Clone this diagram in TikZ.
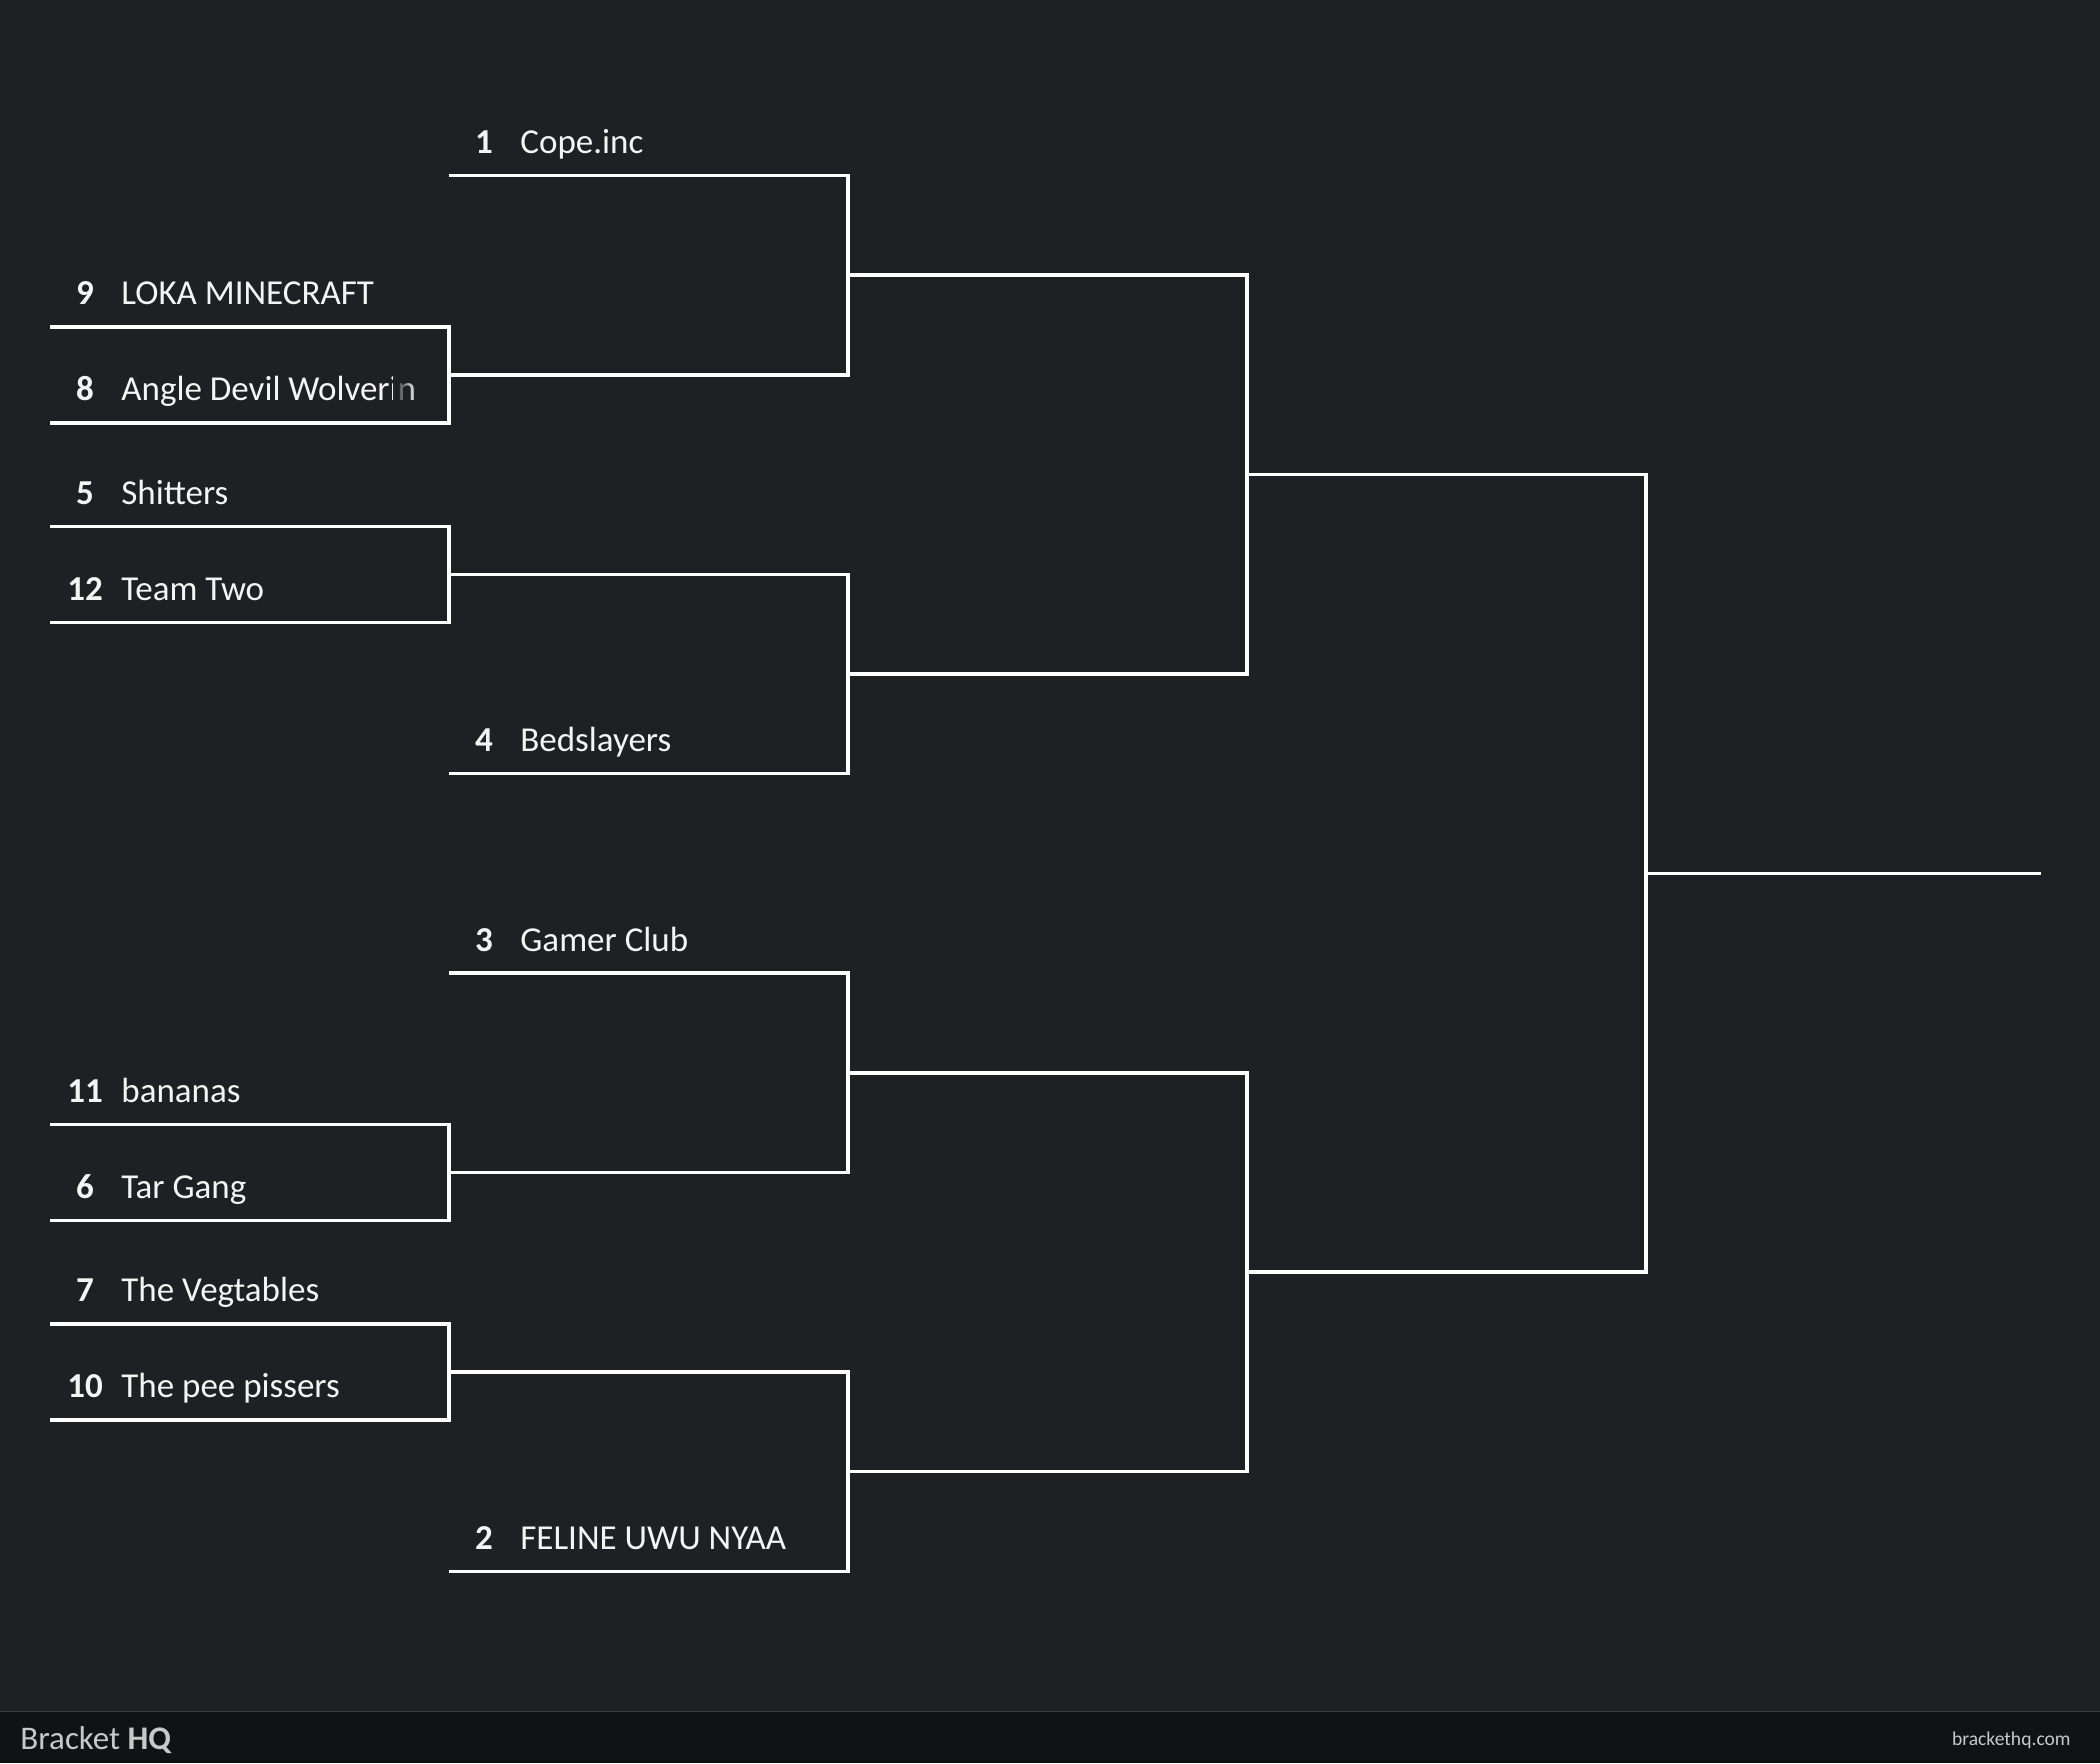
\documentclass[tikz,border=0pt]{standalone}
\usepackage{fontspec}
\setmainfont{Carlito}
\usetikzlibrary{fadings}
\definecolor{fundo}{HTML}{1F2023}
\definecolor{rodape}{HTML}{111214}
\definecolor{borda}{HTML}{3C3D40}
\definecolor{texto}{HTML}{F4F4F4}
\definecolor{cinza}{HTML}{C8C8C8}

\begin{document}
\begin{tikzpicture}[x=0.5pt,y=-0.5pt,
  chave/.style={draw=white, line width=1.75pt, line join=miter},
  semente/.style={anchor=base, inner sep=0pt, text=texto, font=\bfseries\fontsize{17.5}{20}\selectfont},
  equipe/.style={anchor=base west, inner sep=0pt, text=texto, font=\fontsize{17.5}{20}\selectfont}]
\useasboundingbox (0,0) rectangle (2100,1763);
\fill[fundo] (0,0) rectangle (2100,1763);
% Rodape
\fill[rodape] (0,1712) rectangle (2100,1763);
\draw[borda, line width=0.6pt] (0,1711.5) -- (2100,1711.5);
\node[anchor=base west, inner sep=0pt, text=cinza, font=\fontsize{16.5}{18}\selectfont] (marca) at (20,1749) {Bracket \textbf{HQ}};
\node[anchor=base east, inner sep=0pt, text=cinza, font=\fontsize{9.8}{11}\selectfont] (site) at (2071,1745) {brackethq.com};
% Equipes
\foreach \n/\x/\y/\s/\t in {
  loka/50/326.9/9/LOKA MINECRAFT,
  angle/50/422.9/8/Angle Devil Wolverin,
  shitters/50/526.3/5/Shitters,
  teamtwo/50/622.3/12/Team Two,
  bananas/50/1124.5/11/bananas,
  targang/50/1220.5/6/Tar Gang,
  vegtables/50/1323.9/7/The Vegtables,
  pee/50/1419.9/10/The pee pissers,
  cope/449/175.5/1/Cope.inc,
  bed/449/773.7/4/Bedslayers,
  gamer/449/973.1/3/Gamer Club,
  feline/449/1571.3/2/FELINE UWU NYAA}
{
  \coordinate (\n-l) at (\x,\y);
  \coordinate (\n-r) at ({\x+399},\y);
  \node[semente] (\n-s) at ({\x+35},{\y-22}) {\s};
  \node[equipe] (\n-t) at ({\x+71},{\y-22}) {\t};
}
% Vagas vazias
\foreach \n/\x/\y in {w1/449/374.9, w2/449/574.3, w3/449/1172.5, w4/449/1371.9,
  q1/848/275.2, q2/848/674.0, q3/848/1072.8, q4/848/1471.6,
  s1/1247/474.6, s2/1247/1272.2}
{
  \coordinate (\n-l) at (\x,\y);
  \coordinate (\n-r) at ({\x+399},\y);
}
\coordinate (f-l) at (1647,873.4);
\coordinate (f-r) at (2041,873.4);
% Nome cortado
\fill[fundo, path fading=east] (393,368) rectangle (416,419);
\fill[fundo] (416,368) rectangle (446,419);
% Chaves
\draw[chave] (loka-l) -- (loka-r) -- (angle-r) -- (angle-l);
\draw[chave] (shitters-l) -- (shitters-r) -- (teamtwo-r) -- (teamtwo-l);
\draw[chave] (bananas-l) -- (bananas-r) -- (targang-r) -- (targang-l);
\draw[chave] (vegtables-l) -- (vegtables-r) -- (pee-r) -- (pee-l);
\draw[chave] (cope-l) -- (cope-r) -- (w1-r) -- (w1-l);
\draw[chave] (w2-l) -- (w2-r) -- (bed-r) -- (bed-l);
\draw[chave] (gamer-l) -- (gamer-r) -- (w3-r) -- (w3-l);
\draw[chave] (w4-l) -- (w4-r) -- (feline-r) -- (feline-l);
\draw[chave] (q1-l) -- (q1-r) -- (q2-r) -- (q2-l);
\draw[chave] (q3-l) -- (q3-r) -- (q4-r) -- (q4-l);
\draw[chave] (s1-l) -- (s1-r) -- (s2-r) -- (s2-l);
\draw[chave] (f-l) -- (f-r);
\end{tikzpicture}
\end{document}
